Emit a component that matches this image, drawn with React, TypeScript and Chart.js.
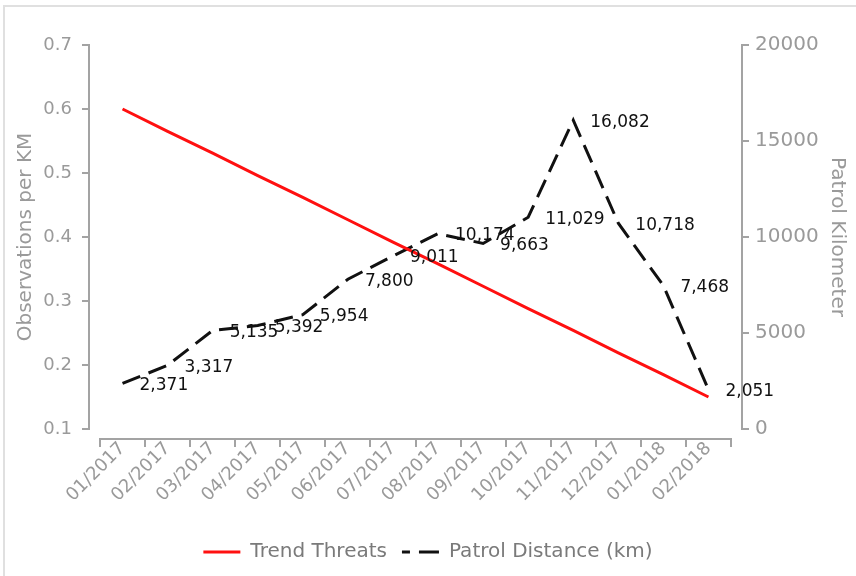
import React, { useEffect, useRef } from 'react';
import { Chart, registerables } from 'chart.js';

Chart.register(...registerables);

const months = [
  '01/2017', '02/2017', '03/2017', '04/2017', '05/2017', '06/2017', '07/2017',
  '08/2017', '09/2017', '10/2017', '11/2017', '12/2017', '01/2018', '02/2018',
];
const trendThreats = [0.6, 0.565, 0.531, 0.496, 0.462, 0.427, 0.392, 0.358, 0.323, 0.288, 0.254, 0.219, 0.185, 0.15];
const patrolDistance = [2371, 3317, 5135, 5392, 5954, 7800, 9011, 10174, 9663, 11029, 16082, 10718, 7468, 2051];

const FONT = '"DejaVu Sans", sans-serif';
const AXIS_GREY = '#a3a3a3';
const TEXT_GREY = '#9a9a9a';

const fmt = (v: number) => String(v).replace(/\B(?=(\d{3})+(?!\d))/g, ',');

const customAxes = {
  id: 'customAxes',
  afterDraw(chart: any) {
    const { ctx, chartArea, scales } = chart;
    const x = scales.x;
    const yL = scales.y;
    const yR = scales.y1;
    ctx.save();
    ctx.strokeStyle = AXIS_GREY;
    ctx.lineWidth = 2;
    ctx.beginPath();
    const lx = Math.round(chartArea.left - 11);
    ctx.moveTo(lx, yL.getPixelForValue(yL.max) - 1);
    ctx.lineTo(lx, yL.getPixelForValue(yL.min) + 1);
    yL.ticks.forEach((t: any) => {
      const py = Math.round(yL.getPixelForValue(t.value));
      ctx.moveTo(lx - 7, py);
      ctx.lineTo(lx, py);
    });
    const rx = Math.round(chartArea.right + 11);
    ctx.moveTo(rx, yR.getPixelForValue(yR.max) - 1);
    ctx.lineTo(rx, yR.getPixelForValue(yR.min) + 1);
    yR.ticks.forEach((t: any) => {
      const py = Math.round(yR.getPixelForValue(t.value));
      ctx.moveTo(rx, py);
      ctx.lineTo(rx + 7, py);
    });
    const by = Math.round(chartArea.bottom + 10);
    ctx.moveTo(chartArea.left - 1, by);
    ctx.lineTo(chartArea.right + 1, by);
    const n = months.length;
    for (let i = 0; i <= n; i++) {
      let px;
      if (i === 0) px = chartArea.left;
      else if (i === n) px = chartArea.right;
      else px = (x.getPixelForValue(i - 1) + x.getPixelForValue(i)) / 2;
      px = Math.round(px);
      ctx.moveTo(px, by);
      ctx.lineTo(px, by + 8);
    }
    ctx.stroke();
    ctx.restore();
  },
};

const valueLabels = {
  id: 'valueLabels',
  afterDatasetsDraw(chart: any) {
    const { ctx } = chart;
    const meta = chart.getDatasetMeta(1);
    ctx.save();
    ctx.font = `17px ${FONT}`;
    ctx.fillStyle = '#111111';
    ctx.textAlign = 'left';
    ctx.textBaseline = 'middle';
    meta.data.forEach((pt: any, i: number) => {
      ctx.fillText(fmt(patrolDistance[i]), pt.x + 17, pt.y + 2);
    });
    ctx.restore();
  },
};

export default function App() {
  const canvasRef = useRef<HTMLCanvasElement | null>(null);

  useEffect(() => {
    if (!canvasRef.current) return;
    const chart = new Chart(canvasRef.current, {
      type: 'line',
      data: {
        labels: months,
        datasets: [
          {
            label: 'Trend Threats',
            data: trendThreats,
            borderColor: '#ff1010',
            backgroundColor: '#ff1010',
            borderWidth: 3,
            pointRadius: 0,
            tension: 0,
            yAxisID: 'y',
          },
          {
            label: 'Patrol Distance (km)',
            data: patrolDistance,
            borderColor: '#111111',
            backgroundColor: '#111111',
            borderWidth: 3,
            borderDash: [19, 9],
            pointRadius: 0,
            tension: 0,
            yAxisID: 'y1',
          },
        ],
      },
      options: {
        responsive: false,
        maintainAspectRatio: false,
        devicePixelRatio: 1,
        animation: false,
        layout: { padding: { top: 45, bottom: 4, left: 0, right: 0 } },
        plugins: {
          tooltip: { enabled: false },
          legend: {
            position: 'bottom',
            labels: {
              usePointStyle: true,
              pointStyle: 'line',
              pointStyleWidth: 37,
              padding: 15,
              color: '#7a7a7a',
              font: { family: FONT, size: 20 },
              generateLabels: (ch: any) => {
                const items = Chart.defaults.plugins.legend.labels.generateLabels(ch);
                items.forEach((it: any, i: number) => {
                  const ds: any = ch.data.datasets[i];
                  it.pointStyle = 'line';
                  it.lineWidth = 3;
                  it.strokeStyle = ds.borderColor;
                  it.lineDash = ds.borderDash ? [8, 9, 20, 60] : [];
                });
                return items;
              },
            },
          },
        },
        scales: {
          x: {
            type: 'category',
            offset: true,
            grid: { display: false, drawTicks: false, offset: true },
            border: { display: false },
            ticks: {
              autoSkip: false,
              minRotation: 45,
              maxRotation: 45,
              padding: 14,
              color: TEXT_GREY,
              font: { family: FONT, size: 18, lineHeight: 0.4 },
            },
            afterFit: (s: any) => { s.height = 98; },
          },
          y: {
            position: 'left',
            min: 0.1,
            max: 0.7,
            grid: { display: false, drawTicks: false },
            border: { display: false },
            ticks: {
              stepSize: 0.1,
              padding: 28,
              color: TEXT_GREY,
              font: { family: FONT, size: 18 },
              callback: (v: any) => Number(v).toFixed(1),
            },
            title: {
              display: true,
              text: 'Observations per KM',
              color: TEXT_GREY,
              font: { family: FONT, size: 20 },
              padding: { top: 14, bottom: 0 },
            },
            afterFit: (s: any) => { s.width = 100; },
          },
          y1: {
            position: 'right',
            min: 0,
            max: 20000,
            grid: { display: false, drawTicks: false },
            border: { display: false },
            ticks: {
              stepSize: 5000,
              padding: 24,
              color: TEXT_GREY,
              font: { family: FONT, size: 20 },
              callback: (v: any) => String(v),
            },
            title: {
              display: true,
              text: 'Patrol Kilometer',
              color: TEXT_GREY,
              font: { family: FONT, size: 20 },
              padding: { top: 7, bottom: 0 },
            },
            afterFit: (s: any) => { s.width = 125; },
          },
        },
      },
      plugins: [customAxes, valueLabels],
    });
    return () => chart.destroy();
  }, []);

  return (
    <div style={{ position: 'fixed', left: 0, top: 0, width: 856, height: 576, background: '#fff', overflow: 'hidden' }}>
      <div
        style={{
          position: 'absolute', left: 3, top: 5, width: 853, height: 571, boxSizing: 'border-box',
          borderTop: '2px solid #e0e0e0', borderLeft: '2px solid #e0e0e0',
        }}
      />
      <canvas ref={canvasRef} width={856} height={576} style={{ position: 'absolute', left: 0, top: 0, display: 'block' }} />
    </div>
  );
}
